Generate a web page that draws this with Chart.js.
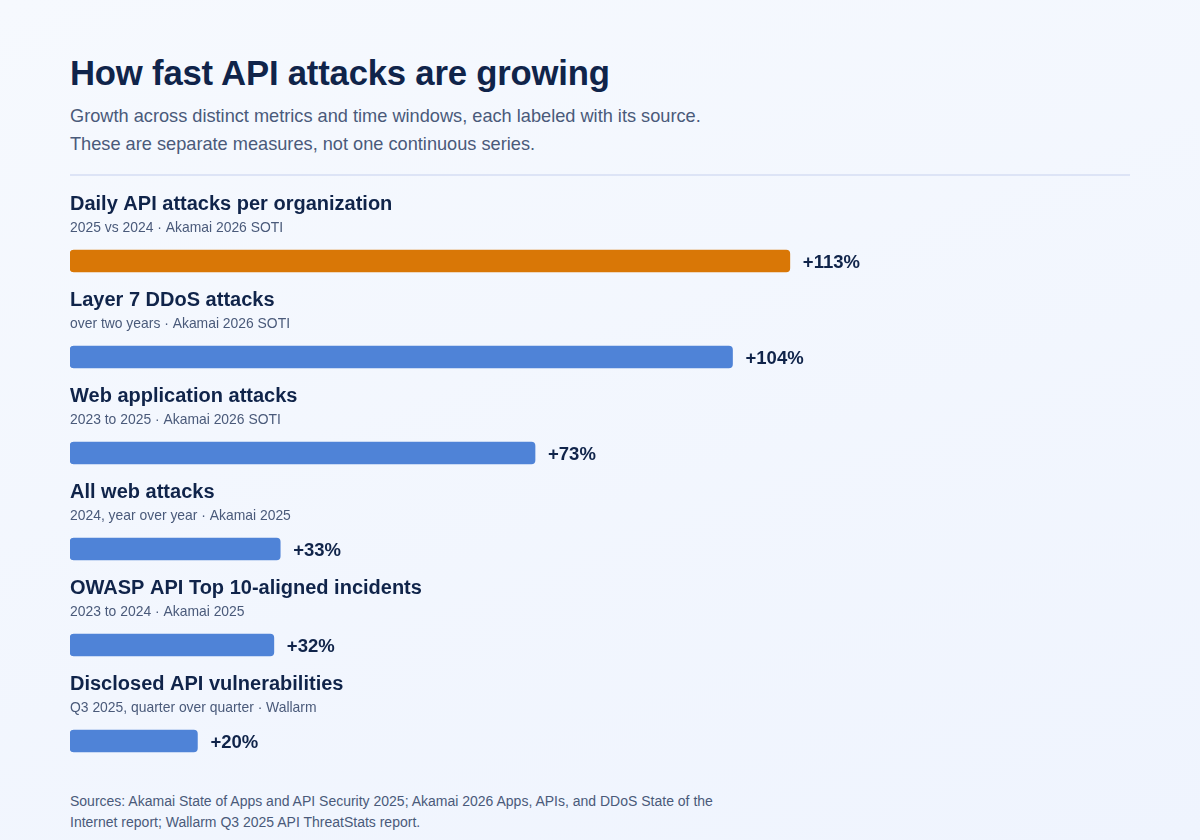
<!DOCTYPE html>
<html>
<head>
<meta charset="utf-8">
<script src="https://cdn.jsdelivr.net/npm/chart.js@4/dist/chart.umd.min.js"></script>
<style>
  html, body { margin: 0; padding: 0; }
  body {
    width: 1200px; height: 840px; overflow: hidden; position: relative;
    background: linear-gradient(160deg, #f6f9fe 0%, #eff4fe 100%);
    font-family: "Liberation Sans", Arial, Helvetica, sans-serif;
  }
  h1 {
    position: absolute; left: 70px; top: 54px; margin: 0;
    font-size: 34.7px; font-weight: bold; color: #10244a; letter-spacing: -0.2px;
  }
  .sub {
    position: absolute; left: 70px; top: 102px; margin: 0;
    font-size: 18.2px; line-height: 28px; color: #4a5a7a;
  }
  .rule {
    position: absolute; left: 70px; top: 174px; width: 1060px; height: 2px;
    background: #dde4f6;
  }
  #wrap { position: absolute; left: 70px; top: 185px; width: 1060px; height: 604px; }
  .sources {
    position: absolute; left: 70px; top: 791px; margin: 0;
    font-size: 14px; line-height: 21px; color: #4a5a7a;
  }
</style>
</head>
<body>
<h1>How fast API attacks are growing</h1>
<p class="sub">Growth across distinct metrics and time windows, each labeled with its source.<br>These are separate measures, not one continuous series.</p>
<div class="rule"></div>
<div id="wrap"><canvas id="bars"></canvas></div>
<p class="sources">Sources: Akamai State of Apps and API Security 2025; Akamai 2026 Apps, APIs, and DDoS State of the<br>Internet report; Wallarm Q3 2025 API ThreatStats report.</p>

<script>
// metric rows, top to bottom
const metrics = [
    'Daily API attacks per organization',
    'Layer 7 DDoS attacks',
    'Web application attacks',
    'All web attacks',
    'OWASP API Top 10-aligned incidents',
    'Disclosed API vulnerabilities'
];
const notes = [
    '2025 vs 2024 \u00b7 Akamai 2026 SOTI',
    'over two years \u00b7 Akamai 2026 SOTI',
    '2023 to 2025 \u00b7 Akamai 2026 SOTI',
    '2024, year over year \u00b7 Akamai 2025',
    '2023 to 2024 \u00b7 Akamai 2025',
    'Q3 2025, quarter over quarter \u00b7 Wallarm'
];
const growth = [113, 104, 73, 33, 32, 20];

const ORANGE = '#d97706';
const BLUE = '#4f83d7';
const INK = '#10244a';
const MUTED = '#4a5a7a';
const FONT = '"Liberation Sans", Arial, Helvetica, sans-serif';

// draws the row titles above each bar and the +N% after it
const rowLabels = {
    id: 'rowLabels',
    afterDatasetsDraw(chart) {
        const ctx = chart.ctx;
        const meta = chart.getDatasetMeta(0);
        const left = chart.chartArea.left;
        ctx.save();
        ctx.textBaseline = 'middle';
        meta.data.forEach((bar, i) => {
            ctx.textAlign = 'left';
            ctx.fillStyle = INK;
            ctx.font = 'bold 20px ' + FONT;
            ctx.fillText(metrics[i], left, bar.y - 57);
            ctx.fillStyle = MUTED;
            ctx.font = '13.9px ' + FONT;
            ctx.fillText(notes[i], left, bar.y - 33);
            ctx.fillStyle = INK;
            ctx.font = 'bold 18.5px ' + FONT;
            ctx.fillText('+' + growth[i] + '%', bar.x + 13, bar.y + 2);
        });
        ctx.restore();
    }
};

new Chart(document.getElementById('bars'), {
    type: 'bar',
    data: {
        labels: metrics,
        datasets: [{
            data: growth,
            backgroundColor: growth.map((v, i) => i === 0 ? ORANGE : BLUE),
            borderRadius: 4,
            borderSkipped: false,
            barThickness: 22
        }]
    },
    options: {
        indexAxis: 'y',
        responsive: true,
        maintainAspectRatio: false,
        animation: false,
        layout: { padding: { top: 28, bottom: 0, left: 0, right: 0 } },
        scales: {
            x: { display: false, min: 0, max: 166.4 },
            y: { display: false }
        },
        plugins: {
            legend: { display: false },
            tooltip: { enabled: false }
        }
    },
    plugins: [rowLabels]
});
</script>
</body>
</html>
